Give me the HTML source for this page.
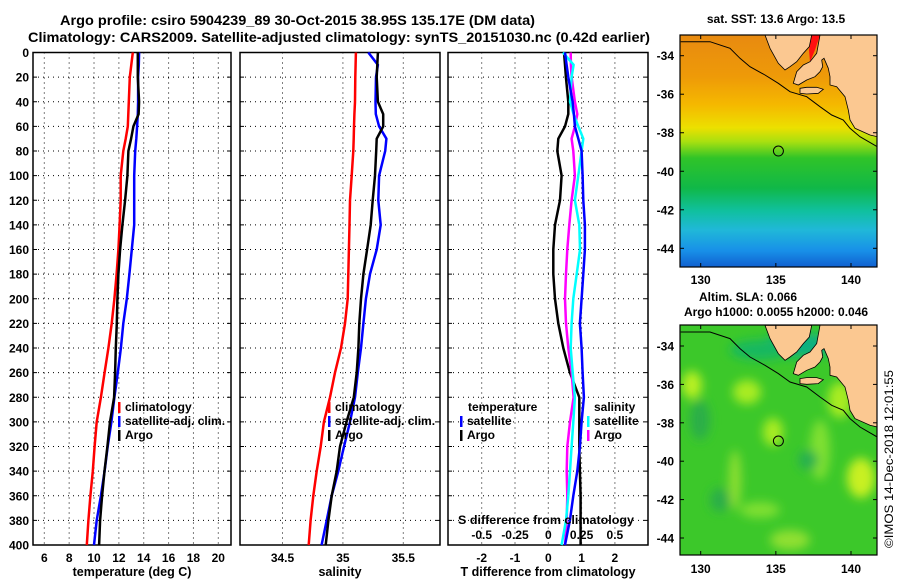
<!DOCTYPE html>
<html><head><meta charset="utf-8"><style>
html,body{margin:0;padding:0;background:#fff;}
svg{display:block;font-family:"Liberation Sans",sans-serif;font-weight:bold;}
</style></head><body>
<svg id="fig" width="900" height="580" viewBox="0 0 900 580" xmlns="http://www.w3.org/2000/svg">
<defs>
<linearGradient id="sstGrad" x1="0" y1="0" x2="0" y2="1">
<stop offset="0" stop-color="#e88a10"/><stop offset="0.18" stop-color="#ee9a08"/>
<stop offset="0.3" stop-color="#f5b800"/><stop offset="0.4" stop-color="#ece000"/>
<stop offset="0.46" stop-color="#a8e010"/><stop offset="0.53" stop-color="#30c428"/>
<stop offset="0.66" stop-color="#10b848"/><stop offset="0.76" stop-color="#10c0a0"/>
<stop offset="0.84" stop-color="#20b8d8"/><stop offset="0.93" stop-color="#1890e8"/>
<stop offset="1" stop-color="#1060d0"/></linearGradient>
<filter id="blur" x="-50%" y="-50%" width="200%" height="200%"><feGaussianBlur stdDeviation="5"/></filter>
<clipPath id="clipTop"><rect x="680" y="35" width="197" height="232"/></clipPath>
<clipPath id="clipBot"><rect x="680" y="325" width="197" height="230"/></clipPath>
</defs>
<g>
<text x="60" y="25" font-size="13.5" textLength="475" lengthAdjust="spacingAndGlyphs">Argo profile: csiro 5904239_89 30-Oct-2015 38.95S 135.17E (DM data)</text>
<text x="28" y="42" font-size="13.5" textLength="622" lengthAdjust="spacingAndGlyphs">Climatology: CARS2009. Satellite-adjusted climatology: synTS_20151030.nc (0.42d earlier)</text>
</g>
<g id="panels"></g>
<g id="maps"></g>
<text transform="translate(893,548) rotate(-90)" font-size="12" font-weight="normal" textLength="178" lengthAdjust="spacingAndGlyphs">©IMOS 14-Dec-2018 12:01:55</text>
</svg>
<script>
const depths=[0,10,20,40,50,60,70,80,100,120,140,160,180,200,220,240,260,280,300,320,340,360,380,400];
const tempClim=[13.12,13.0,12.88,12.8,12.76,12.72,12.55,12.36,12.15,12.15,12.06,11.96,11.82,11.64,11.42,11.16,10.85,10.55,10.22,10.05,9.9,9.71,9.55,9.42];
const tempSat=[13.63,13.6,13.55,13.55,13.52,13.47,13.4,13.31,13.23,13.23,13.23,13.04,12.85,12.64,12.36,12.16,11.91,11.64,11.4,11.1,10.85,10.55,10.22,10.0];
const tempArgo=[13.52,13.52,13.52,13.63,13.59,13.17,12.98,12.77,12.69,12.5,12.28,12.1,11.96,11.88,11.83,11.75,11.7,11.62,11.29,11.08,10.84,10.65,10.49,10.41];
const salClim=[35.108,35.105,35.103,35.1,35.095,35.092,35.089,35.086,35.073,35.059,35.055,35.05,35.045,35.04,35.017,34.984,34.935,34.893,34.843,34.816,34.783,34.755,34.733,34.717];
const salSat=[35.21,35.29,35.274,35.27,35.272,35.30,35.36,35.35,35.30,35.293,35.313,35.28,35.224,35.19,35.17,35.15,35.123,35.1,35.059,35.009,34.962,34.907,34.866,34.824];
const salArgo=[35.29,35.285,35.28,35.29,35.334,35.334,35.28,35.276,35.266,35.247,35.23,35.2,35.17,35.15,35.136,35.128,35.114,35.09,35.03,34.976,34.949,34.907,34.88,34.858];
const tDiffSat=[0.5,0.55,0.6,0.73,0.77,0.8,0.9,1.0,1.03,1.05,1.1,1.1,1.05,1.0,0.95,1.0,1.03,1.07,1.0,0.95,0.87,0.75,0.65,0.5];
const tDiffArgo=[0.47,0.5,0.53,0.6,0.6,0.5,0.3,0.27,0.4,0.35,0.2,0.15,0.15,0.2,0.3,0.45,0.65,0.93,0.93,0.93,0.95,0.97,0.97,0.97];
const sDiffSat=[0.11,0.19,0.175,0.163,0.19,0.225,0.263,0.25,0.225,0.2,0.233,0.238,0.213,0.1875,0.175,0.168,0.183,0.2,0.1875,0.175,0.163,0.15,0.133,0.1];
const sDiffArgo=[0.168,0.17,0.175,0.2,0.218,0.2,0.175,0.1875,0.2,0.175,0.158,0.143,0.133,0.125,0.133,0.15,0.175,0.19,0.163,0.143,0.138,0.143,0.138,0.125];
const depthTicks=[0,20,40,60,80,100,120,140,160,180,200,220,240,260,280,300,320,340,360,380,400];
const tempTicks=[6,8,10,12,14,16,18,20];
const salTicks=[34.5,35,35.5];
const tDiffTicks=[-2,-1,0,1,2];
const sDiffTicks=[-0.5,-0.25,0,0.25,0.5];
const latTicks=[-34,-36,-38,-40,-42,-44];
const lonTicks=[130,135,140];

const NS='http://www.w3.org/2000/svg';
function mk(tag,attrs,parent){const e=document.createElementNS(NS,tag);for(const k in attrs)e.setAttribute(k,attrs[k]);if(parent)parent.appendChild(e);return e;}
const Y0=52.5,Y1=545;
function yDepth(d){return Y0+d/400*(Y1-Y0);}
function lin(d0,d1,r0,r1){return v=>r0+(v-d0)/(d1-d0)*(r1-r0);}
const panels=document.getElementById('panels');
function panel(name,x0,x1,xs,xTicks,xLabelFmt,title,showY){
  const g=mk('g',{},panels);
  
  
  // grid
  depthTicks.forEach(d=>{if(d>0&&d<400){const l=mk('line',{x1:x0,x2:x1,y1:yDepth(d),y2:yDepth(d),stroke:'#000','stroke-width':1,'stroke-dasharray':'1,4'},g);}});
  xTicks.forEach(v=>{const x=xs(v);const l=mk('line',{x1:x,x2:x,y1:Y0,y2:Y1,stroke:'#000','stroke-width':1,'stroke-dasharray':'1,4'},g);
    const t=mk('text',{x:x,y:562,'font-size':12,'text-anchor':'middle'},g);t.textContent=xLabelFmt(v);});
  depthTicks.forEach(d=>{mk('line',{x1:x0,x2:x0+4,y1:yDepth(d),y2:yDepth(d),stroke:'#000'},g);mk('line',{x1:x1-4,x2:x1,y1:yDepth(d),y2:yDepth(d),stroke:'#000'},g);
    if(showY){const t=mk('text',{x:29,y:yDepth(d)+4.5,'font-size':12,'text-anchor':'end'},g);t.textContent=d;}});
  const fr=mk('rect',{x:x0,y:Y0,width:x1-x0,height:Y1-Y0,fill:'none',stroke:'#000','stroke-width':1.5},g);
  
  const tt=mk('text',{x:(x0+x1)/2,y:576,'font-size':12.5,'text-anchor':'middle'},g);tt.textContent=title;
  
  return g;
}
function series(g,vals,xs,color,w,name){
  const pts=vals.map((v,i)=>xs(v).toFixed(1)+','+yDepth(depths[i]).toFixed(1)).join(' ');
  const p=mk('polyline',{points:pts,fill:'none',stroke:color,'stroke-width':w,'stroke-linejoin':'round'},g);
  
  
}
function legend(g,x,y,color,label,name){
  const b=mk('rect',{x:x-1,y:y-9,width:2.5,height:11,fill:color},g);
  const t=mk('text',{x:x+6,y:y,'font-size':12},g);t.textContent=label;
  
  
}
// Panel 1
const xT=lin(6,20,44.3,218.3);
const g1=panel('temperature-panel',33,231,xT,tempTicks,v=>v,'temperature (deg C)',true);
series(g1,tempClim,xT,'#ff0000',2.5,'temperature-climatology-line');
series(g1,tempSat,xT,'#0000ff',2.5,'temperature-satellite-line');
series(g1,tempArgo,xT,'#000000',2.5,'temperature-argo-line');
legend(g1,119,411,'#ff0000','climatology','legend-climatology');
legend(g1,119,425,'#0000ff','satellite-adj. clim.','legend-satellite');
legend(g1,119,439,'#000000','Argo','legend-argo');
// Panel 2
const xS=lin(34.5,35.5,282.5,403.3);
const g2=panel('salinity-panel',240,440,xS,salTicks,v=>v,'salinity',false);
series(g2,salClim,xS,'#ff0000',2.5,'salinity-climatology-line');
series(g2,salSat,xS,'#0000ff',2.5,'salinity-satellite-line');
series(g2,salArgo,xS,'#000000',2.5,'salinity-argo-line');
legend(g2,329,411,'#ff0000','climatology','legend-climatology');
legend(g2,329,425,'#0000ff','satellite-adj. clim.','legend-satellite');
legend(g2,329,439,'#000000','Argo','legend-argo');
// Panel 3
const xD=lin(0,1,548.3,581.6);
const xSD=lin(0,0.25,548.3,581.6);
const g3=panel('difference-panel',448,648,xD,tDiffTicks,v=>v,'T difference from climatology',false);
series(g3,tDiffArgo,xD,'#000000',2.5,'tdiff-argo-line');
series(g3,sDiffArgo,xSD,'#ff00ff',2.5,'sdiff-argo-line');
series(g3,sDiffSat,xSD,'#00ffff',2.5,'sdiff-satellite-line');
series(g3,tDiffSat,xD,'#0000ff',2.5,'tdiff-satellite-line');
(function(){
  let t=mk('text',{x:468,y:411,'font-size':12},g3);t.textContent='temperature';
  t=mk('text',{x:594,y:411,'font-size':12},g3);t.textContent='salinity';
  legend(g3,461,425,'#0000ff','satellite','legend-t-satellite');
  legend(g3,461,439,'#000000','Argo','legend-t-argo');
  legend(g3,588,425,'#00ffff','satellite','legend-s-satellite');
  legend(g3,588,439,'#ff00ff','Argo','legend-s-argo');
  t=mk('text',{x:458,y:524,'font-size':12,textLength:176,lengthAdjust:'spacingAndGlyphs'},g3);t.textContent='S difference from climatology';
  sDiffTicks.forEach(v=>{const tk=mk('text',{x:xSD(v),y:539,'font-size':12,'text-anchor':'middle'},g3);tk.textContent=v;});
})();

// Maps
const maps=document.getElementById('maps');
function mapFrame(name,top,bottom,lat34y,latScale,lonTitleY,clipId,bgFn){
  const g=mk('g',{},maps);
  
  
  const lonX=lin(130,140,700.7,851);
  const latY=v=>lat34y+(-34-v)*latScale;
  const inner=mk('g',{'clip-path':'url(#'+clipId+')'},g);
  bgFn(inner,top,bottom);
  const dy=lat34y-55.7;
  const P=a=>a.map(p=>(650+p[0]/3).toFixed(1)+','+(p[1]/3+dy).toFixed(1)).join(' ');
  const land1=[[345,105],[360,145],[385,190],[405,210],[420,200],[440,185],[460,160],[478,140],[485,105]];
  const land2=[[510,105],[500,160],[480,185],[460,195],[440,215],[430,250],[445,255],[470,240],[495,230],[510,215],[518,200],[515,180],[522,175],[535,205],[540,230],[540,255],[560,260],[585,290],[595,330],[600,360],[615,385],[660,405],[690,412],[690,90],[510,90]];
  const kangaroo=[[450,265],[470,262],[500,262],[520,268],[505,280],[470,282],[450,280]];
  const shelf=[[92,125],[180,125],[240,145],[270,175],[300,200],[345,225],[385,250],[420,275],[470,290],[510,320],[545,345],[580,360],[600,385],[630,410],[690,445]];
  let l=mk('polyline',{points:P(shelf),fill:'none',stroke:'#000','stroke-width':1},inner);
  [land1,land2,kangaroo].forEach(a=>{const p=mk('polygon',{points:P(a),fill:'#fbc891',stroke:'#000','stroke-width':0.8},inner);});
  const c=mk('circle',{cx:lonX(135.17),cy:latY(-38.95),r:5,fill:'none',stroke:'#000','stroke-width':1},inner);
  
  const fr=mk('rect',{x:680,y:top,width:197,height:bottom-top,fill:'none',stroke:'#000','stroke-width':1.2},g);
  
  latTicks.forEach(v=>{const y=latY(v);mk('line',{x1:680,x2:684,y1:y,y2:y,stroke:'#000'},g);mk('line',{x1:873,x2:877,y1:y,y2:y,stroke:'#000'},g);
    const t=mk('text',{x:674,y:y+4.5,'font-size':12,'text-anchor':'end'},g);t.textContent=v;});
  lonTicks.forEach(v=>{const x=lonX(v);mk('line',{x1:x,x2:x,y1:top,y2:top+4,stroke:'#000'},g);mk('line',{x1:x,x2:x,y1:bottom-4,y2:bottom,stroke:'#000'},g);
    const t=mk('text',{x:x,y:lonTitleY,'font-size':12,'text-anchor':'middle'},g);t.textContent=v;});
  return g;
}
mapFrame('sst-map',35,267,55.7,19.26,284,'clipTop',(g,t,b)=>{
  const r=mk('rect',{x:680,y:t,width:197,height:b-t,fill:'url(#sstGrad)'},g);
  mk('polygon',{points:'811.7,35 820,35 815,50 810,62 809,50',fill:'#ff1010'},g);
});
mapFrame('sla-map',325,555,346,19.2,573,'clipBot',(g,t,b)=>{
  const r=mk('rect',{x:680,y:t,width:197,height:b-t,fill:'#3cc82a'},g);
  const bl=mk('g',{filter:'url(#blur)'},g);
  [[692,385,10,14,'#b8f020'],[747,392,14,12,'#a8ec20'],[840,400,12,18,'#a8ec20'],[773,432,10,14,'#a8ec20'],[861,478,14,20,'#c8f020'],[820,450,10,30,'#80e030'],[735,480,6,30,'#90e030'],[760,510,20,8,'#80e030'],[790,540,20,10,'#90e030'],[808,460,10,10,'#28b050'],[700,420,10,20,'#2aae4a'],[720,500,10,12,'#2aae4a'],[800,345,40,12,'#10b080'],[760,350,30,10,'#18b860']].forEach(a=>mk('ellipse',{cx:a[0],cy:a[1],rx:a[2],ry:a[3],fill:a[4]},bl));
});
let tt=mk('text',{x:776,y:23,'font-size':12,'text-anchor':'middle'},maps);tt.textContent='sat. SST: 13.6 Argo: 13.5';

tt=mk('text',{x:748,y:301,'font-size':12,'text-anchor':'middle'},maps);tt.textContent='Altim. SLA: 0.066';

tt=mk('text',{x:776,y:316,'font-size':12,'text-anchor':'middle'},maps);tt.textContent='Argo h1000: 0.0055 h2000: 0.046';

</script>
</body></html>
